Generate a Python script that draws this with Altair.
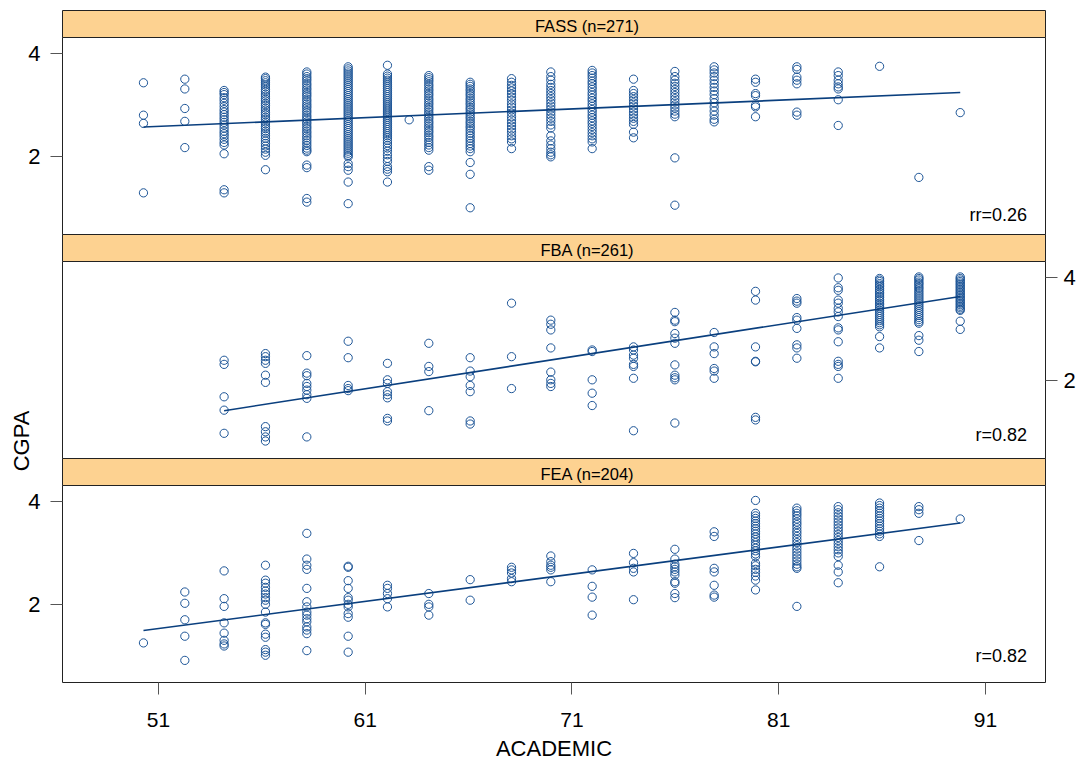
import altair as alt
import pandas as pd

# ---------------- data ----------------
ACADEMIC_LEVELS = [50.3, 52.3, 54.2, 56.2, 58.2, 60.2, 62.1, 64.1, 66.1, 68.1, 70.0,
                   72.0, 74.0, 76.0, 77.9, 79.9, 81.9, 83.9, 85.9, 87.8, 89.8]

FASS_CGPA = [
    [3.43, 2.80, 2.64, 1.29],
    [3.50, 3.31, 2.93, 2.68, 2.17],
    [3.28, 3.24, 3.20, 3.14, 3.09, 3.03, 2.97, 2.91, 2.86, 2.81, 2.76, 2.71, 2.66, 2.61, 2.55,
     2.49, 2.44, 2.39, 2.33, 2.27, 2.22, 2.05, 1.35, 1.29],
    [3.54, 3.51, 3.47, 3.43, 3.39, 3.35, 3.30, 3.26, 3.21, 3.17, 3.12, 3.08, 3.03, 2.99, 2.94,
     2.90, 2.85, 2.81, 2.76, 2.72, 2.67, 2.63, 2.58, 2.54, 2.49, 2.45, 2.40, 2.35, 2.30, 2.25,
     2.20, 2.14, 2.08, 2.02, 1.74],
    [3.64, 3.60, 3.55, 3.51, 3.47, 3.42, 3.38, 3.33, 3.29, 3.24, 3.20, 3.16, 3.11, 3.07, 3.02,
     2.98, 2.94, 2.89, 2.85, 2.80, 2.76, 2.72, 2.67, 2.63, 2.58, 2.54, 2.49, 2.45, 2.40, 2.36,
     2.31, 2.26, 2.21, 2.16, 2.12, 2.09, 1.83, 1.78, 1.18, 1.11],
    [3.74, 3.70, 3.66, 3.62, 3.58, 3.54, 3.50, 3.46, 3.42, 3.38, 3.34, 3.30, 3.26, 3.22, 3.18,
     3.14, 3.10, 3.06, 3.02, 2.98, 2.94, 2.90, 2.86, 2.82, 2.78, 2.74, 2.70, 2.66, 2.62, 2.58,
     2.54, 2.50, 2.46, 2.42, 2.38, 2.34, 2.30, 2.26, 2.22, 2.18, 2.14, 2.10, 2.06, 2.02, 1.99,
     1.86, 1.80, 1.73, 1.50, 1.08],
    [3.77, 3.60, 3.56, 3.52, 3.48, 3.44, 3.40, 3.36, 3.32, 3.28, 3.24, 3.20, 3.16, 3.12, 3.08,
     3.04, 3.00, 2.96, 2.92, 2.88, 2.84, 2.80, 2.76, 2.72, 2.68, 2.64, 2.60, 2.56, 2.52, 2.48,
     2.44, 2.40, 2.36, 2.31, 2.26, 2.21, 2.16, 2.10, 2.03, 1.96, 1.90, 1.80, 1.75, 1.70, 1.50],
    [3.57, 3.53, 3.49, 3.45, 3.40, 3.36, 3.31, 3.27, 3.22, 3.18, 3.13, 3.09, 3.04, 3.00, 2.95,
     2.91, 2.86, 2.82, 2.77, 2.73, 2.68, 2.64, 2.59, 2.55, 2.50, 2.46, 2.41, 2.37, 2.32, 2.27,
     2.22, 2.17, 2.12, 1.80, 1.73],
    [3.44, 3.40, 3.36, 3.31, 3.27, 3.22, 3.18, 3.13, 3.09, 3.04, 3.00, 2.95, 2.91, 2.86, 2.82,
     2.77, 2.73, 2.68, 2.64, 2.59, 2.55, 2.50, 2.45, 2.40, 2.35, 2.30, 2.25, 2.20, 2.15, 2.09,
     1.88, 1.65, 1.00],
    [3.51, 3.44, 3.38, 3.33, 3.27, 3.21, 3.15, 3.09, 3.02, 2.96, 2.90, 2.84, 2.77, 2.71, 2.65,
     2.59, 2.53, 2.47, 2.40, 2.34, 2.28, 2.15],
    [3.64, 3.55, 3.48, 3.40, 3.34, 3.28, 3.22, 3.16, 3.10, 3.04, 2.98, 2.92, 2.86, 2.80, 2.74,
     2.68, 2.61, 2.55, 2.40, 2.30, 2.22, 2.15, 2.08, 2.03, 1.99],
    [3.67, 3.62, 3.57, 3.52, 3.46, 3.41, 3.35, 3.30, 3.24, 3.19, 3.13, 3.08, 3.02, 2.97, 2.91,
     2.86, 2.80, 2.75, 2.69, 2.64, 2.58, 2.52, 2.46, 2.40, 2.34, 2.28, 2.15],
    [3.50, 3.28, 3.22, 3.16, 3.10, 3.04, 2.98, 2.92, 2.86, 2.80, 2.74, 2.68, 2.62, 2.47, 2.36],
    [3.65, 3.55, 3.48, 3.42, 3.36, 3.30, 3.24, 3.18, 3.12, 3.06, 3.00, 2.94, 2.88, 2.82, 2.77,
     1.97, 1.05],
    [3.74, 3.68, 3.62, 3.55, 3.48, 3.41, 3.34, 3.27, 3.20, 3.12, 3.04, 2.96, 2.88, 2.80, 2.72,
     2.67],
    [3.50, 3.44, 3.22, 3.18, 2.99, 2.96, 2.77],
    [3.74, 3.69, 3.54, 3.48, 3.41, 2.86, 2.80],
    [3.64, 3.57, 3.48, 3.41, 3.35, 3.31, 3.10, 2.60],
    [3.75],
    [1.59],
    [2.85],
]
FASS_EXTRA_ACADEMIC = [63.15]
FASS_EXTRA_CGPA = [2.71]

FBA_CGPA = [
    [],
    [],
    [2.39, 2.31, 1.68, 1.42, 0.97],
    [2.52, 2.46, 2.39, 2.33, 2.10, 1.96, 1.10, 1.00, 0.90, 0.82],
    [2.48, 2.14, 2.09, 1.94, 1.88, 1.81, 1.72, 1.65, 0.90],
    [2.76, 2.44, 1.90, 1.84, 1.80],
    [2.33, 2.01, 1.94, 1.78, 1.72, 1.66, 1.26, 1.21],
    [2.72, 2.27, 2.17, 1.41],
    [2.44, 2.18, 2.07, 1.90, 1.78, 1.21, 1.15],
    [3.50, 2.46, 1.84],
    [3.17, 3.09, 2.98, 2.63, 2.16, 2.01, 1.94, 1.88],
    [2.59, 2.56, 2.01, 1.75, 1.51],
    [2.65, 2.59, 2.49, 2.43, 2.31, 2.27, 2.04, 1.02],
    [3.32, 3.17, 3.14, 2.91, 2.82, 2.72, 2.30, 2.10, 2.05, 2.01, 1.17],
    [2.93, 2.65, 2.52, 2.23, 2.18, 2.04],
    [3.73, 3.56, 2.65, 2.37, 2.36, 1.28, 1.23],
    [3.59, 3.54, 3.50, 3.22, 3.17, 3.01, 2.69, 2.63, 2.43],
    [3.99, 3.80, 3.75, 3.56, 3.50, 3.40, 3.33, 3.24, 3.02, 2.98, 2.75, 2.37, 2.31, 2.27, 2.04],
    [3.98, 3.95, 3.92, 3.88, 3.85, 3.82, 3.78, 3.75, 3.71, 3.68, 3.64, 3.61, 3.57, 3.54, 3.50,
     3.47, 3.43, 3.40, 3.36, 3.32, 3.28, 3.24, 3.20, 3.16, 3.12, 3.08, 3.04, 2.85, 2.63],
    [4.01, 3.98, 3.95, 3.91, 3.88, 3.85, 3.81, 3.78, 3.74, 3.70, 3.66, 3.62, 3.58, 3.54, 3.50,
     3.46, 3.42, 3.38, 3.34, 3.30, 3.26, 3.22, 3.18, 3.14, 3.11, 2.87, 2.78, 2.56],
    [4.01, 3.98, 3.95, 3.92, 3.89, 3.86, 3.83, 3.80, 3.77, 3.74, 3.71, 3.68, 3.65, 3.62, 3.59,
     3.56, 3.53, 3.50, 3.47, 3.44, 3.41, 3.38, 3.36, 3.15, 2.99],
]

FEA_CGPA = [
    [1.25],
    [2.24, 2.02, 1.70, 1.38, 0.91],
    [2.65, 2.11, 1.96, 1.64, 1.44, 1.30, 1.23, 1.19],
    [2.76, 2.47, 2.41, 2.33, 2.26, 2.20, 2.13, 2.08, 2.00, 1.85, 1.64, 1.61, 1.42, 1.36, 1.12,
     1.07, 1.01],
    [3.38, 2.88, 2.76, 2.68, 2.31, 2.05, 1.95, 1.85, 1.79, 1.72, 1.66, 1.56, 1.50, 1.43, 1.10],
    [2.74, 2.72, 2.46, 2.31, 2.13, 2.08, 2.00, 1.95, 1.82, 1.75, 1.38, 1.07],
    [2.37, 2.31, 2.21, 2.11, 1.95],
    [2.21, 2.00, 1.95, 1.79],
    [2.48, 2.08],
    [2.72, 2.67, 2.61, 2.50, 2.44],
    [2.94, 2.83, 2.76, 2.72, 2.67, 2.44],
    [2.67, 2.35, 2.14, 1.79],
    [2.99, 2.81, 2.70, 2.63, 2.09],
    [3.07, 2.88, 2.78, 2.73, 2.68, 2.63, 2.57, 2.44, 2.41, 2.21, 2.13],
    [3.41, 3.32, 2.70, 2.63, 2.37, 2.18, 2.14],
    [4.02, 3.77, 3.72, 3.67, 3.62, 3.57, 3.52, 3.47, 3.42, 3.37, 3.31, 3.26, 3.20, 3.15, 3.09,
     3.04, 2.98, 2.93, 2.80, 2.75, 2.68, 2.62, 2.55, 2.47, 2.28],
    [3.87, 3.82, 3.77, 3.72, 3.66, 3.60, 3.55, 3.49, 3.43, 3.38, 3.32, 3.26, 3.20, 3.14, 3.08,
     3.02, 2.96, 2.90, 2.84, 2.78, 2.73, 2.70, 1.96],
    [3.90, 3.84, 3.78, 3.72, 3.66, 3.60, 3.54, 3.48, 3.42, 3.36, 3.30, 3.24, 3.18, 3.12, 3.06,
     3.00, 2.93, 2.76, 2.63, 2.42],
    [3.97, 3.92, 3.87, 3.82, 3.77, 3.72, 3.67, 3.62, 3.57, 3.52, 3.47, 3.42, 3.37, 3.32, 2.73],
    [3.90, 3.84, 3.77, 3.24],
    [3.66],
]

STRIP_LABELS = ["FASS (n=271)", "FBA (n=261)", "FEA (n=204)"]
R_LABELS = ["rr=0.26", "r=0.82", "r=0.82"]
FIT_ACADEMIC = [[50.3, 89.8], [54.2, 89.8], [50.3, 89.8]]
FIT_CGPA = [[2.57, 3.24], [1.41, 3.63], [1.49, 3.58]]
X_TICKS = [51, 61, 71, 81, 91]
Y_TICKS = [2, 4]

# ---------------- style ----------------
FONT = "Liberation Sans, Arial, sans-serif"
PT_COLOR = "#1d5597"
LINE_COLOR = "#0a3f7e"
STRIP_FILL = "#fdd291"
BORDER = "#222222"
W, PH, SH = 983, 197, 27

xscale = alt.Scale(domain=[46.36, 93.9], nice=False, zero=False)
yscale = alt.Scale(domain=[0.49, 4.32], nice=False, zero=False)


def make_rows(cols, ex_x=(), ex_y=()):
    out = []
    for a, ys in zip(ACADEMIC_LEVELS, cols):
        for v in ys:
            out.append({"ACADEMIC": a, "CGPA": v})
    for a, v in zip(ex_x, ex_y):
        out.append({"ACADEMIC": a, "CGPA": v})
    return pd.DataFrame(out)


DATA = [
    make_rows(FASS_CGPA, FASS_EXTRA_ACADEMIC, FASS_EXTRA_CGPA),
    make_rows(FBA_CGPA),
    make_rows(FEA_CGPA),
]


def strip(label):
    return alt.Chart(alt.Data(values=[{"t": label}])).mark_text(
        font=FONT, fontSize=16.5, color="black", align="center", baseline="middle"
    ).encode(
        x=alt.value(525), y=alt.value(16.5), text="t:N"
    ).properties(
        width=W, height=SH,
        view=alt.ViewBackground(fill=STRIP_FILL, stroke=BORDER, strokeWidth=1),
    )


def panel(i, y_orient, show_x, extra=None):
    yax = alt.Axis(values=Y_TICKS, orient=y_orient, title=None, tickSize=12,
                   tickColor="#555555", tickWidth=1, labelFontSize=22, labelFont=FONT,
                   labelColor="black", labelPadding=10 if y_orient == "left" else 6,
                   domain=False, grid=False)
    if show_x:
        xax = alt.Axis(values=X_TICKS, orient="bottom", title="ACADEMIC", tickSize=12,
                       tickColor="#555555", tickWidth=1, labelFontSize=21, labelFont=FONT,
                       labelColor="black", labelPadding=15, labelFlush=False, format="d",
                       titleFont=FONT, titleFontSize=22, titleFontWeight="normal",
                       titleColor="black", titlePadding=8, domain=False, grid=False)
    else:
        xax = None
    x_enc = alt.X("ACADEMIC:Q", scale=xscale, axis=xax)
    y_enc = alt.Y("CGPA:Q", scale=yscale, axis=yax)

    pts = alt.Chart(DATA[i]).mark_point(
        shape="circle", filled=False, size=68, strokeWidth=1, color=PT_COLOR, opacity=1
    ).encode(x=x_enc, y=y_enc)

    fit = pd.DataFrame({"ACADEMIC": FIT_ACADEMIC[i], "CGPA": FIT_CGPA[i]})
    line = alt.Chart(fit).mark_line(color=LINE_COLOR, strokeWidth=1.6).encode(x=x_enc, y=y_enc)

    ry = [179, 175, 172][i]
    rtxt = alt.Chart(alt.Data(values=[{"t": R_LABELS[i]}])).mark_text(
        font=FONT, fontSize=18, color="black", align="right", baseline="middle"
    ).encode(x=alt.value(965), y=alt.value(ry), text="t:N")

    layers = [pts, line, rtxt]
    if extra is not None:
        layers.append(extra)
    return alt.layer(*layers).properties(
        width=W, height=PH,
        view=alt.ViewBackground(fill="white", stroke=BORDER, strokeWidth=1),
    )


cgpa = alt.Chart(alt.Data(values=[{"t": "CGPA"}])).mark_text(
    font=FONT, fontSize=22, color="black", angle=270, align="center", baseline="middle"
).encode(x=alt.value(-40), y=alt.value(180), text="t:N")

chart = alt.vconcat(
    strip(STRIP_LABELS[0]),
    panel(0, "left", False),
    strip(STRIP_LABELS[1]),
    panel(1, "right", False, extra=cgpa),
    strip(STRIP_LABELS[2]),
    panel(2, "left", True),
    spacing=0,
    bounds="flush",
).properties(
    padding={"left": 10, "top": 9, "right": 0, "bottom": 0},
    background="white",
).configure_concat(spacing=0)

chart.save("out.html", embed_options={"renderer": "svg", "actions": False})
